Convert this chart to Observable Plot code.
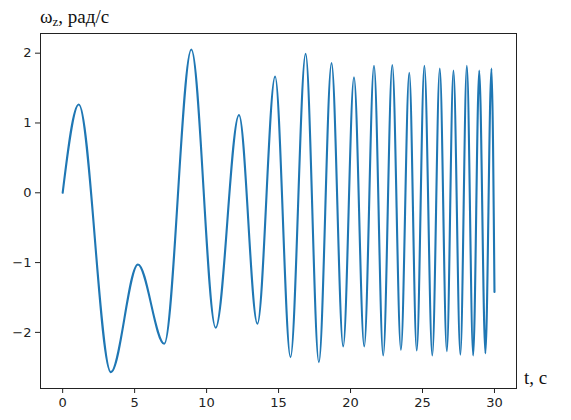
<!DOCTYPE html>
<html>
<head>
<meta charset="utf-8">
<script src="https://cdn.jsdelivr.net/npm/d3@7"></script>
<script src="https://cdn.jsdelivr.net/npm/@observablehq/plot@0.6"></script>
<style>
  html, body { margin: 0; padding: 0; background: #fff; }
  #chart { position: relative; width: 571px; height: 420px; }
</style>
</head>
<body>
<div id="chart"></div>
<script>
// Extrema of the signal (time in s, value in rad/s)
const tValues = [0, 1.12, 3.35, 5.23, 7.06, 8.94, 10.63, 12.25, 13.53, 14.76, 15.83, 16.88, 17.8, 18.68, 19.49, 20.24, 20.95, 21.63, 22.27, 22.90, 23.5, 24.08, 24.6, 25.13, 25.68, 26.20, 26.69, 27.15, 27.63, 28.08, 28.52, 28.94, 29.37, 29.79, 30];
const omegaValues = [0, 1.265, -2.57, -1.027, -2.163, 2.053, -1.934, 1.115, -1.877, 1.666, -2.355, 1.99, -2.427, 1.857, -2.2, 1.656, -2.2, 1.82, -2.33, 1.83, -2.25, 1.72, -2.26, 1.82, -2.33, 1.78, -2.27, 1.75, -2.32, 1.82, -2.33, 1.75, -2.30, 1.78, -1.42];
const xTicks = [0, 5, 10, 15, 20, 25, 30];
const yTicks = [-2, -1, 0, 1, 2];
const yLabel = "ω";
const yLabelSub = "z";
const yLabelRest = ", рад/с";
const xLabel = "t, с";

const data = tValues.map((t, i) => ({t, v: omegaValues[i]}));

const chart = Plot.plot({
  width: 571,
  height: 420,
  marginLeft: 40,
  marginRight: 55,
  marginTop: 33,
  marginBottom: 32,
  style: {fontFamily: "DejaVu Sans", fontSize: "13px", color: "#222", background: "#fff"},
  x: {domain: [-1.54, 31.53], label: null},
  y: {domain: [-2.804, 2.282], label: null},
  marks: [
    Plot.line(data, {x: "t", y: "v", curve: "monotone-x", stroke: "#1f77b4", strokeWidth: 2.1}),
    Plot.axisX({ticks: xTicks, tickSize: 5, tickPadding: 4, tickFormat: d => d3.format("d")(d), fontSize: 13}),
    Plot.axisY({ticks: yTicks, tickSize: 5, tickPadding: 4, tickFormat: d => (d < 0 ? "−" : "") + Math.abs(d), fontSize: 13}),
    Plot.frame({stroke: "#222", strokeWidth: 1})
  ]
});

const svg = d3.select(chart);
const t1 = svg.append("text")
  .attr("x", 40).attr("y", 23)
  .attr("text-anchor", "start")
  .attr("font-family", "Liberation Serif, Times New Roman, serif")
  .attr("font-size", 19)
  .attr("fill", "#111");
t1.append("tspan").text(yLabel);
t1.append("tspan").attr("font-size", 13).attr("dy", 3).text(yLabelSub);
t1.append("tspan").attr("dy", -3).text(yLabelRest);

svg.append("text")
  .attr("x", 524).attr("y", 384)
  .attr("text-anchor", "start")
  .attr("font-family", "Liberation Serif, Times New Roman, serif")
  .attr("font-size", 19)
  .attr("fill", "#111")
  .text(xLabel);

document.getElementById("chart").appendChild(chart);
</script>
</body>
</html>
